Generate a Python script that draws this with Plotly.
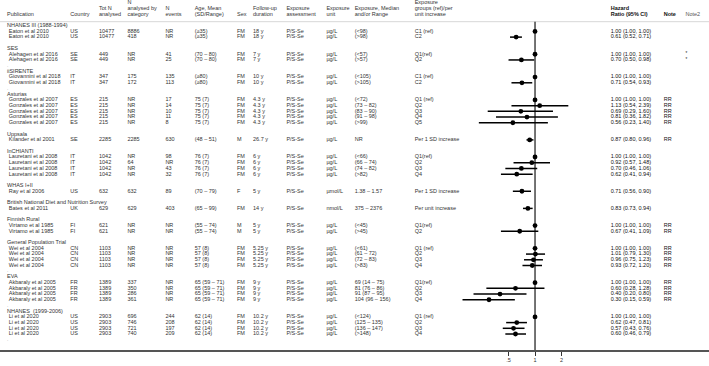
import plotly.graph_objects as go

# ---------------- data ----------------
group_names = ["NHANES III (1988-1994)", "SES", "iiSIRENTE", "Asturias", "Uppsala", "InCHIANTI",
               "WHAS I+II", "British National Diet and Nutrition Survey", "Finnish Rural",
               "General Population Trial", "EVA", "NHANES  (1999-2006)"]
group_sizes = [2, 2, 2, 5, 1, 4, 1, 1, 2, 4, 4, 4]

pub = ["Eaton et al 2010"] * 2 + ["Alehagen et al 2016"] * 2 + ["Giovannini et al 2018"] * 2 + \
      ["Gonzales et al 2007"] * 5 + ["Kilander et al 2001"] + ["Lauretani et al 2008"] * 4 + \
      ["Ray et al 2006"] + ["Bates et al 2011"] + ["Virtamo et al 1985"] * 2 + ["Wei et al 2004"] * 4 + \
      ["Akbaraly et al 2005"] * 4 + ["Li et al 2020"] * 4
country = ["US"] * 2 + ["SE"] * 2 + ["IT"] * 2 + ["ES"] * 5 + ["SE"] + ["IT"] * 4 + ["US"] + ["UK"] + \
          ["FI"] * 2 + ["CN"] * 4 + ["FR"] * 4 + ["US"] * 4
tot_n = ["10477"] * 2 + ["449"] * 2 + ["347"] * 2 + ["215"] * 5 + ["2285"] + ["1042"] * 4 + ["632"] + \
        ["629"] + ["621"] * 2 + ["1103"] * 4 + ["1389"] * 4 + ["2903"] * 4
n_cat = ["8886", "418", "NR", "NR", "175", "172", "NR", "NR", "NR", "NR", "NR", "2285",
         "NR", "64", "NR", "NR", "632", "629", "NR", "NR", "NR", "NR", "NR", "NR",
         "337", "350", "286", "361", "696", "746", "721", "740"]
n_events = ["NR", "NR", "41", "25", "135", "113", "17", "14", "10", "11", "8", "630",
            "98", "NR", "43", "32", "89", "403", "NR", "NR", "NR", "NR", "NR", "NR",
            "NR", "NR", "NR", "NR", "244", "208", "197", "209"]
age = ["(≥35)"] * 2 + ["(70 – 80)"] * 2 + ["(≥80)"] * 2 + ["75 (7)"] * 5 + ["(48 – 51)"] + \
      ["76 (7)"] * 4 + ["(70 – 79)"] + ["(65 – 99)"] + ["(55 – 74)"] * 2 + ["57 (8)"] * 4 + \
      ["65 (59 – 71)"] * 4 + ["62 (14)"] * 4
sex = ["FM"] * 11 + ["M"] + ["FM"] * 4 + ["F"] + ["FM"] + ["M"] * 2 + ["FM"] * 12
follow_up = ["18 y"] * 2 + ["7 y"] * 2 + ["10 y"] * 2 + ["4.3 y"] * 5 + ["26.7 y"] + ["6 y"] * 4 + \
            ["5 y"] + ["14 y"] + ["5 y"] * 2 + ["5.25 y"] * 4 + ["9 y"] * 4 + ["10.2 y"] * 4
assessment = ["P/S-Se"] * 32
unit = ["µg/L"] * 16 + ["µmol/L"] + ["nmol/L"] + ["µg/L"] * 14
exposure = ["(<98)", "(>98)", "(<57)", "(>57)", "(<105)", "(>105)",
            "(<72)", "(73 – 82)", "(83 – 90)", "(91 – 98)", "(>99)", "NR",
            "(<66)", "(66 – 74)", "(74 – 82)", "(>82)", "1.38 – 1.57", "375 – 2376",
            "(<45)", "(>45)", "(<61)", "(61 – 72)", "(72 – 83)", "(>83)",
            "69 (14 – 75)", "81 (76 – 86)", "91 (87 – 95)", "104 (96 – 156)",
            "(<124)", "(125 – 135)", "(136 – 147)", "(>148)"]
exp_groups = ["C1 (ref)", "C2", "Q1(ref)", "Q2", "C1 (ref)", "C2",
              "Q1 (ref)", "Q2", "Q3", "Q4", "Q5", "Per 1 SD increase",
              "Q1(ref)", "Q2", "Q3", "Q4", "Per 1 SD increase", "Per unit increase",
              "Q1(ref)", "Q2", "Q1 (ref)", "Q2", "Q3", "Q4",
              "Q1(ref)", "Q2", "Q3", "Q4", "Q1 (ref)", "Q2", "Q3", "Q4"]
hr = [1.00, 0.61, 1.00, 0.70, 1.00, 0.71, 1.00, 1.13, 0.69, 0.81, 0.56, 0.87,
      1.00, 0.92, 0.70, 0.62, 0.71, 0.83, 1.00, 0.67, 1.00, 1.01, 0.96, 0.93,
      1.00, 0.60, 0.40, 0.30, 1.00, 0.62, 0.57, 0.60]
lo = [1.00, 0.52, 1.00, 0.50, 1.00, 0.54, 1.00, 0.54, 0.29, 0.36, 0.23, 0.80,
      1.00, 0.57, 0.46, 0.41, 0.56, 0.73, 1.00, 0.41, 1.00, 0.79, 0.75, 0.72,
      1.00, 0.28, 0.20, 0.15, 1.00, 0.47, 0.43, 0.46]
hi = [1.00, 0.71, 1.00, 0.98, 1.00, 0.93, 1.00, 2.39, 1.60, 1.82, 1.40, 0.96,
      1.00, 1.48, 1.06, 0.94, 0.90, 0.94, 1.00, 1.09, 1.00, 1.30, 1.23, 1.20,
      1.00, 1.28, 0.80, 0.59, 1.00, 0.81, 0.76, 0.79]
note = [""] * 6 + ["RR"] * 6 + [""] * 6 + ["RR"] * 10 + [""] * 4
note2 = ["", "", "*", "*"] + [""] * 28
dot_rows = [8, 12, 44, 50, 56]
axis_ticks = [0.5, 1, 2]
axis_ticklabels = [".5", "1", "2"]

# ---------------- layout of rows ----------------
header_rows = []
data_rows = []
r = 1
for gs in group_sizes:
    header_rows.append(r)
    r += 1
    for _ in range(gs):
        data_rows.append(r)
        r += 1
    r += 1

hr_text = [f"{h:.2f} ({l:.2f}, {u:.2f})" for h, l, u in zip(hr, lo, hi)]

FONT = "Liberation Sans, Arial, sans-serif"
FS = 5.5
TXT = "#333333"

fig = go.Figure()

def col(x, texts, rows, color=TXT, size=FS, bold=False):
    t = [f"<b>{s}</b>" if bold and s else s for s in texts]
    fig.add_trace(go.Scatter(
        x=[x] * len(texts), y=rows, text=t, mode="text",
        textposition="middle right",
        textfont=dict(family=FONT, size=size, color=color),
        xaxis="x2", yaxis="y", hoverinfo="skip", showlegend=False))

# group headers
col(7.0, group_names, header_rows)
# table columns
cols = [(8.8, pub), (70.3, country), (99.0, tot_n), (127.4, n_cat), (165.4, n_events),
        (194.7, age), (237.0, sex), (253.0, follow_up), (286.4, assessment), (326.4, unit),
        (354.7, exposure), (414.7, exp_groups)]
for x, vals in cols:
    col(x, vals, data_rows)
col(610.7, hr_text, data_rows, color="#111111")
col(663.7, note, data_rows, color="#111111")
col(685.5, note2, data_rows, color="#111111", size=4.5)
col(7.0, ["."] * len(dot_rows), dot_rows, color="#999999", size=4.5)

# headers (3 lines: rows -3, -2, -1)
headers = [
    (7.0, ["", "", "Publication"]),
    (70.3, ["", "", "Country"]),
    (99.0, ["", "Tot N", "analysed"]),
    (127.4, ["N", "analysed by", "category"]),
    (165.4, ["", "N", "events"]),
    (194.7, ["", "Age, Mean", "(SD/Range)"]),
    (237.0, ["", "", "Sex"]),
    (253.0, ["", "Follow-up", "duration"]),
    (286.4, ["", "Exposure", "assessment"]),
    (326.4, ["", "Exposure", "unit"]),
    (354.7, ["", "Exposure, Median", "and/or Range"]),
    (414.7, ["Exposure", "groups (ref)/per", "unit increase"]),
]
for x, lines in headers:
    col(x, lines, [-3, -2, -1])
col(610.7, ["", "Hazard", "Ratio (95% CI)"], [-3, -2, -1], color="#111111", bold=True)
col(663.7, ["", "", "Note"], [-3, -2, -1], color="#111111", bold=True)
col(685.5, ["", "", "Note2"], [-3, -2, -1], color="#555555")

# forest points
fig.add_trace(go.Scatter(
    x=hr, y=data_rows, mode="markers",
    marker=dict(color="black", size=4.8, symbol="circle"),
    error_x=dict(type="data", symmetric=False,
                 array=[h2 - h for h, h2 in zip(hr, hi)],
                 arrayminus=[h - l for h, l in zip(hr, lo)],
                 color="black", thickness=1.5, width=0),
    xaxis="x", yaxis="y", hoverinfo="skip", showlegend=False))

fig.update_layout(
    width=709, height=366,
    margin=dict(l=0, r=0, t=0, b=16),
    paper_bgcolor="white", plot_bgcolor="white",
    xaxis=dict(type="log", domain=[0, 1], range=[-6.0795, 1.977],
               tickvals=axis_ticks, ticktext=axis_ticklabels,
               ticks="outside", ticklen=4, tickwidth=1, tickcolor="#333",
               showgrid=False, zeroline=False, showline=True, linecolor="#555555", linewidth=1.5,
               tickfont=dict(family=FONT, size=5.5, color="#333")),
    xaxis2=dict(range=[0, 709], domain=[0, 1], overlaying="x", visible=False),
    yaxis=dict(range=[57.8, -3.5], visible=False, showgrid=False, zeroline=False),
    shapes=[
        dict(type="line", xref="paper", yref="y", x0=0, x1=1, y0=0.3, y1=0.3,
             line=dict(color="#cccccc", width=0.8)),
        dict(type="line", xref="x", yref="y", x0=1, x1=1, y0=0.3, y1=57.8,
             line=dict(color="black", width=1.1)),
    ],
)

fig.write_html("out.html", config={"displayModeBar": False, "staticPlot": True},
               post_script="document.body.style.margin='0';document.body.style.padding='0';")
